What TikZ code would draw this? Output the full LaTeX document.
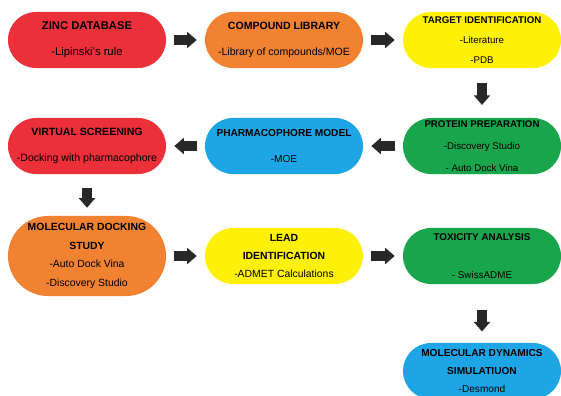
\documentclass[tikz,border=0pt]{standalone}
\usepackage{fontspec}
\setmainfont{Liberation Sans}
\usetikzlibrary{arrows.meta}
\definecolor{stagered}{RGB}{235,48,58}
\definecolor{stageorange}{RGB}{240,130,50}
\definecolor{stageyellow}{RGB}{255,240,10}
\definecolor{stageblue}{RGB}{30,165,230}
\definecolor{stagegreen}{RGB}{25,165,75}
\definecolor{arrowgrey}{RGB}{40,40,40}
\begin{document}
\begin{tikzpicture}[x=0.025cm,y=-0.025cm,
stage/.style={rectangle,rounded corners=0.7cm,fill=#1,minimum width=3.95cm,minimum height=1.4cm,inner sep=0pt,align=center,text=black},
flow/.style={line width=0.23cm,draw=arrowgrey,-{Triangle[length=0.24cm,width=0.4cm]},shorten <=0.2cm,shorten >=0.2cm}]
\useasboundingbox (0,0) rectangle (561,396);
% first row
\node[stage=stagered,font=\fontsize{8}{18.5}\selectfont] (zinc) at (87,40)
{\textbf{ZINC DATABASE}\\-Lipinski's rule};
\node[stage=stageorange,font=\fontsize{7.5}{18}\selectfont] (lib) at (284,40)
{\textbf{COMPOUND LIBRARY}\\-Library of compounds/MOE};
\node[stage=stageyellow,font=\fontsize{6.9}{14.2}\selectfont] (tgt) at (482,40)
{\textbf{TARGET IDENTIFICATION}\\-Literature\\-PDB};
% second row
\node[stage=stagered,font=\fontsize{7.5}{19}\selectfont] (vs) at (87,146)
{\textbf{VIRTUAL SCREENING}\\-Docking with pharmacophore};
\node[stage=stageblue,font=\fontsize{7.2}{19}\selectfont] (pharm) at (284,146)
{\textbf{PHARMACOPHORE MODEL}\\-MOE};
\node[stage=stagegreen,font=\fontsize{6.9}{15.6}\selectfont] (prot) at (482,146)
{\textbf{PROTEIN PREPARATION}\\-Discovery Studio\\- Auto Dock Vina};
% third row
\node[stage=stageorange,rounded corners=1cm,minimum height=2cm,font=\fontsize{7.4}{13.3}\selectfont] (dock) at (87,256)
{\textbf{MOLECULAR DOCKING}\\\textbf{STUDY}\\-Auto Dock Vina\\-Discovery Studio};
\node[stage=stageyellow,font=\fontsize{7.4}{13.1}\selectfont] (lead) at (284,256)
{\textbf{LEAD}\\\textbf{IDENTIFICATION}\\-ADMET Calculations};
\node[stage=stagegreen,font=\fontsize{7}{13.5}\selectfont] (tox) at (482,256)
{\textbf{TOXICITY ANALYSIS}\\\mbox{}\\- SwissADME};
\node[stage=stageblue,font=\fontsize{7.2}{13.1}\selectfont] (md) at (482,371)
{\textbf{MOLECULAR DYNAMICS}\\\textbf{SIMULATIUON}\\-Desmond};
% arrows
\draw[flow] (zinc) -- (lib);
\draw[flow] (lib) -- (tgt);
\draw[flow,shorten <=0.37cm,shorten >=0.32cm] (tgt) -- (prot);
\draw[flow] (prot) -- (pharm);
\draw[flow] (pharm) -- (vs);
\draw[flow,shorten <=0.35cm,shorten >=0.2cm] (vs) -- (dock);
\draw[flow] (dock) -- (lead);
\draw[flow] (lead) -- (tox);
\draw[flow,shorten <=0.65cm,shorten >=0.28cm] (tox) -- (md);
\end{tikzpicture}
\end{document}
